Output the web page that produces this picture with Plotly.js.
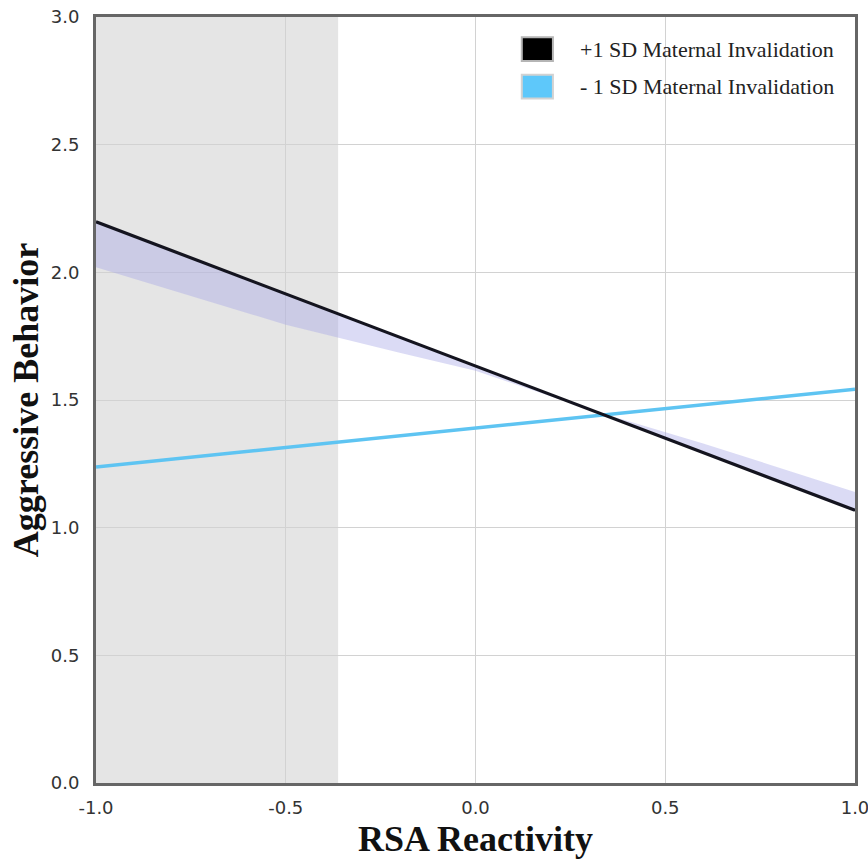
<!DOCTYPE html>
<html>
<head>
<meta charset="utf-8">
<script src="https://cdn.plot.ly/plotly-3.0.1.min.js"></script>
<style>html,body{margin:0;padding:0;background:#fff;}</style>
</head>
<body>
<div id="chart" style="width:868px;height:863px;"></div>
<script>
// Data
const rsaX = [-1.0, 1.0];
const highSD = [2.198, 1.068];          // +1 SD Maternal Invalidation
const lowSD = [1.238, 1.542];           // -1 SD Maternal Invalidation
const bandX = [-1.0, -0.5, -0.2, 0.0, 0.3, 0.6, 1.0];
const bandEdge = [2.02, 1.795, 1.685, 1.615, 1.463, 1.33, 1.14];
const regionEnd = -0.362;               // shaded region from -1 to here
const legendNames = ['+1 SD Maternal Invalidation', '- 1 SD Maternal Invalidation'];
const legendColors = ['#000000', '#5ec8fa'];
const xTicks = [-1.0, -0.5, 0.0, 0.5, 1.0];
const xTickText = ['-1.0', '-0.5', '0.0', '0.5', '1.0'];
const yTicks = [0.0, 0.5, 1.0, 1.5, 2.0, 2.5, 3.0];
const yTickText = ['0.0', '0.5', '1.0', '1.5', '2.0', '2.5', '3.0'];

// black line values at band x positions (on the regression line)
const slope = (highSD[1] - highSD[0]) / (rsaX[1] - rsaX[0]);
const bandLine = bandX.map(x => highSD[0] + slope * (x - rsaX[0]));

const traces = [
  {x: bandX, y: bandLine, mode: 'lines', line: {width: 0}, hoverinfo: 'skip', showlegend: false},
  {x: bandX, y: bandEdge, mode: 'lines', line: {width: 0}, fill: 'tonexty',
   fillcolor: 'rgba(165,165,230,0.4)', hoverinfo: 'skip', showlegend: false},
  {x: rsaX, y: lowSD, mode: 'lines', name: legendNames[1], line: {color: '#5ec4f2', width: 3.5}, showlegend: false},
  {x: rsaX, y: highSD, mode: 'lines', name: legendNames[0], line: {color: '#14141f', width: 3.2}, showlegend: false}
];

const serif = 'Liberation Serif, Times New Roman, serif';
const sans = 'DejaVu Sans, Verdana, sans-serif';

// legend drawn as shapes + text annotations (paper coordinates)
const legRows = [0.958, 0.909];
const shapes = [
  {type: 'rect', xref: 'x', yref: 'y', x0: -1, x1: regionEnd, y0: 0, y1: 3,
   fillcolor: '#e5e5e5', line: {width: 0}, layer: 'below'}
];
const annotations = [];
legRows.forEach((yc, i) => {
  shapes.push({type: 'rect', xref: 'paper', yref: 'paper',
    x0: 0.561, x1: 0.602, y0: yc - 0.0155, y1: yc + 0.0155,
    fillcolor: legendColors[i], line: {color: i === 0 ? '#b5b5b5' : '#d2d2d2', width: 2}});
  annotations.push({xref: 'paper', yref: 'paper', x: 0.635, y: yc, xanchor: 'left', yanchor: 'middle',
    showarrow: false, text: legendNames[i], font: {family: serif, size: 22, color: '#222'}});
});

const layout = {
  width: 868, height: 863,
  margin: {l: 96, r: 13, t: 17, b: 80},
  paper_bgcolor: '#fff', plot_bgcolor: '#fff',
  showlegend: false,
  xaxis: {
    range: [-1, 1], tickvals: xTicks, ticktext: xTickText,
    showgrid: true, gridcolor: '#d2d2d2', gridwidth: 1, zeroline: false,
    showline: true, mirror: true, linecolor: '#666', linewidth: 3,
    ticks: '', ticklabelstandoff: 6, ticklabeloverflow: 'allow',
    tickfont: {family: sans, size: 18, color: '#333'},
    title: {text: 'RSA Reactivity', standoff: 10,
            font: {family: serif, size: 36, color: '#111', weight: 'bold'}}
  },
  yaxis: {
    range: [0, 3], tickvals: yTicks, ticktext: yTickText,
    showgrid: true, gridcolor: '#d2d2d2', gridwidth: 1, zeroline: false,
    showline: true, mirror: true, linecolor: '#666', linewidth: 3,
    ticks: '', ticklabelstandoff: 10, ticklabeloverflow: 'allow',
    tickfont: {family: sans, size: 18, color: '#333'},
    title: {text: 'Aggressive Behavior', standoff: 2,
            font: {family: serif, size: 36, color: '#111', weight: 'bold'}}
  },
  shapes: shapes,
  annotations: annotations
};

Plotly.newPlot('chart', traces, layout, {displayModeBar: false, staticPlot: true});
</script>
</body>
</html>
